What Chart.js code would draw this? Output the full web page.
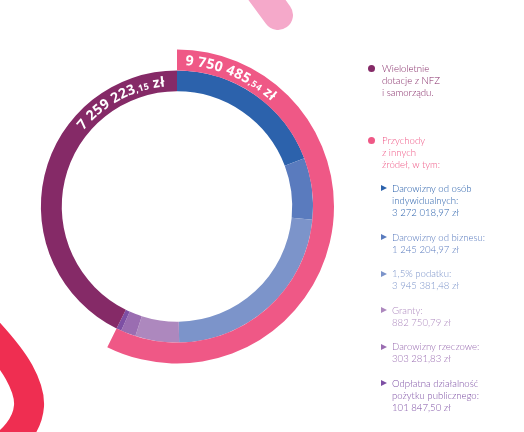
<!DOCTYPE html>
<html lang="pl">
<head>
<meta charset="utf-8">
<title>Struktura przychodów</title>
<script src="https://cdn.jsdelivr.net/npm/chart.js@4.4.1/dist/chart.umd.min.js"></script>
<style>
  html, body { margin: 0; padding: 0; background: #fff; }
  #wrap { position: relative; width: 524px; height: 432px; overflow: hidden; }
  #chart { position: absolute; left: 0; top: 0; }
  #legend { position: absolute; left: 367px; top: 62.9px; font-family: Lato, 'Open Sans', sans-serif; font-weight: 300; font-size: 9.6px; line-height: 12.2px; }
  .item { position: relative; white-space: pre-line; padding-left: 15px; margin-bottom: 11.4px; }
  .item.first { margin-bottom: 35.4px; }
  .item.sub { padding-left: 25px; margin-bottom: 12.1px; }
  .dot { position: absolute; left: 1px; top: 2.6px; width: 7px; height: 7px; border-radius: 50%; }
  .tri { position: absolute; left: 14px; top: 2.6px; width: 0; height: 0; border-left: 6px solid; border-top: 3.5px solid transparent; border-bottom: 3.5px solid transparent; }
</style>
</head>
<body>
<div id="wrap">
  <canvas id="chart" width="524" height="432"></canvas>
  <div id="legend"></div>
</div>
<script>
'use strict';
// main split: other income (pink, outer ring) and NFZ grants (purple)
var mainLabels = ['Przychody\nz innych\nźródeł, w tym:', 'Wieloletnie\ndotacje z NFZ\ni samorządu.'];
var mainValues = [9750485.54, 7259223.15];
var mainColors = ['#EF5886', '#852A67'];

// breakdown of the other income
var subLabels = ['Darowizny od osób\nindywidualnych', 'Darowizny od biznesu', '1,5% podatku', 'Granty', 'Darowizny rzeczowe', 'Odpłatna działalność\npożytku publicznego'];
var subValues = [3272018.97, 1245204.97, 3945381.48, 882750.79, 303281.83, 101847.50];
var subColors = ['#2C62AC', '#5A7BBE', '#7C94CA', '#AD88BE', '#9A6DB1', '#7D4FA4'];

function moneyParts(v) {
    var p = v.toFixed(2).split('.');
    return [p[0].replace(/\B(?=(\d{3})+(?!\d))/g, ' '), ',' + p[1]];
}
function money(v) {
    var p = moneyParts(v);
    return p[0] + p[1] + ' zł';
}

// legend built from the arrays
var legend = document.getElementById('legend');
function addItem(text, color, cls, marker) {
    var d = document.createElement('div');
    d.className = 'item ' + cls;
    d.style.color = color;
    d.textContent = text;
    var m = document.createElement('span');
    m.className = marker;
    if (marker === 'dot') m.style.background = color; else m.style.borderLeftColor = color;
    d.appendChild(m);
    legend.appendChild(d);
}
addItem(mainLabels[1], mainColors[1], 'first', 'dot');
addItem(mainLabels[0], mainColors[0], '', 'dot');
subLabels.forEach(function (l, i) {
    addItem(l + ':\n' + money(subValues[i]), subColors[i], 'sub', 'tri');
});

// text along an arc, tops pointing outward
function arcText(ctx, cx, cy, rb, phi, parts, ls) {
    parts.forEach(function (p) {
        ctx.font = p.font;
        for (var k = 0; k < p.t.length; k++) {
            var ch = p.t[k];
            var w = ctx.measureText(ch).width + ls;
            var a = phi + (w / 2) / rb;
            ctx.save();
            ctx.translate(cx, cy);
            ctx.rotate(a + Math.PI / 2);
            ctx.fillText(ch, 0, -rb);
            ctx.restore();
            phi += w / rb;
        }
    });
}
function partsWidth(ctx, parts, ls) {
    var s = 0;
    parts.forEach(function (p) {
        ctx.font = p.font;
        for (var k = 0; k < p.t.length; k++) s += ctx.measureText(p.t[k]).width + ls;
    });
    return s;
}
function labelParts(v) {
    var m = moneyParts(v);
    var big = '700 14px "Open Sans", sans-serif';
    var small = '700 9px "Open Sans", sans-serif';
    return [{ t: m[0], font: big }, { t: m[1], font: small }, { t: ' zł', font: big }];
}

var decor = {
    id: 'decor',
    beforeDatasetsDraw: function (chart) {
        var ctx = chart.ctx;
        ctx.save();
        ctx.lineCap = 'round';
        ctx.lineJoin = 'round';
        ctx.lineWidth = 30;
        ctx.strokeStyle = '#F5A9CA';
        ctx.beginPath();
        ctx.moveTo(245, -30);
        ctx.lineTo(278, 15);
        ctx.stroke();
        var pts = [[-25, 318], [8, 352], [30, 392], [28, 420], [8, 445], [-20, 462]];
        ctx.strokeStyle = '#EF2E51';
        ctx.beginPath();
        ctx.moveTo(pts[0][0], pts[0][1]);
        for (var i = 1; i < pts.length - 1; i++) {
            ctx.quadraticCurveTo(pts[i][0], pts[i][1], (pts[i][0] + pts[i + 1][0]) / 2, (pts[i][1] + pts[i + 1][1]) / 2);
        }
        ctx.lineTo(pts[pts.length - 1][0], pts[pts.length - 1][1]);
        ctx.stroke();
        ctx.restore();
    }
};

var ringLabels = {
    id: 'ringLabels',
    afterDatasetsDraw: function (chart) {
        var ctx = chart.ctx;
        var ls = 0.3;
        ctx.save();
        ctx.fillStyle = '#fff';
        ctx.textAlign = 'center';
        ctx.textBaseline = 'alphabetic';
        var a = chart.getDatasetMeta(0).data[0];
        var rb = (a.innerRadius + a.outerRadius) / 2 - 5;
        arcText(ctx, a.x, a.y, rb, a.startAngle + 8 / rb, labelParts(mainValues[0]), ls);
        var b = chart.getDatasetMeta(1).data[subValues.length];
        var rb2 = (b.innerRadius + b.outerRadius) / 2 - 5;
        var parts = labelParts(mainValues[1]);
        var w = partsWidth(ctx, parts, ls);
        arcText(ctx, b.x, b.y, rb2, b.endAngle - 12 / rb2 - w / rb2, parts, ls);
        ctx.restore();
    }
};

new Chart(document.getElementById('chart'), {
    type: 'doughnut',
    data: {
        labels: subLabels.concat([mainLabels[1]]),
        datasets: [{
            data: mainValues,
            backgroundColor: [mainColors[0], 'rgba(0,0,0,0)'],
            borderWidth: 0,
            hoverBorderWidth: 0
        }, {
            data: subValues.concat([mainValues[1]]),
            backgroundColor: subColors.concat([mainColors[1]]),
            borderWidth: 0,
            hoverBorderWidth: 0
        }]
    },
    options: {
        responsive: false,
        animation: false,
        cutout: '73.4%',
        layout: { padding: { left: 20, right: 190, top: 49.5, bottom: 68.5 } },
        plugins: { legend: { display: false }, tooltip: { enabled: false } },
        events: []
    },
    plugins: [decor, ringLabels]
});
</script>
</body>
</html>
